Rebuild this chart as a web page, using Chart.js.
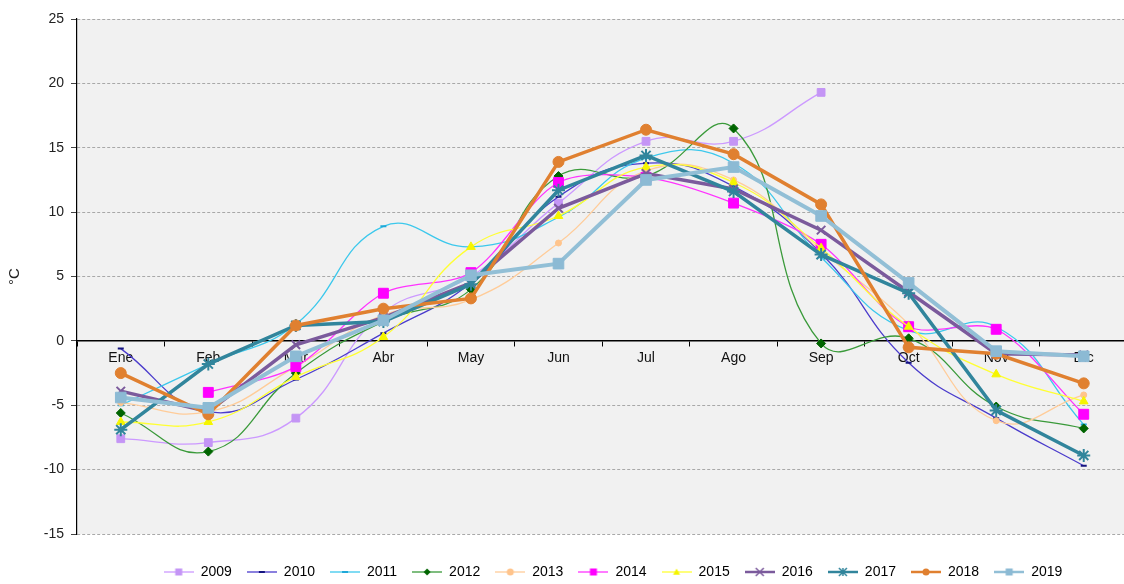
<!DOCTYPE html>
<html>
<head>
<meta charset="utf-8">
<script src="https://cdn.jsdelivr.net/npm/chart.js@4/dist/chart.umd.min.js"></script>
<style>
html, body { margin: 0; padding: 0; background: #fff; overflow: hidden; }
#wrap { width: 1136px; height: 584px; position: relative; }
</style>
</head>
<body>
<div id="wrap"><canvas id="lineChart"></canvas></div>
<script>
// datos (temperatura media mensual, ºC)
var meses = ['Ene', 'Feb', 'Mar', 'Abr', 'May', 'Jun', 'Jul', 'Ago', 'Sep', 'Oct', 'Nov', 'Dic'];
var anios = ['2009', '2010', '2011', '2012', '2013', '2014', '2015', '2016', '2017', '2018', '2019'];

var t2009 = [-7.6, -7.9, -6.0, 2.2, 5.0, 10.7, 15.5, 15.5, 19.3, null, null, null];
var t2010 = [-0.6, -5.5, -3.0, 0.6, 4.5, 11.2, 13.8, 12.0, 6.8, -1.7, -6.0, -9.7];
var t2011 = [-5.0, -1.8, 1.3, 8.9, 7.3, 9.6, 14.2, 13.8, 6.5, 0.8, 1.1, -6.5];
var t2012 = [-5.6, -8.6, -2.5, 1.5, 4.0, 12.8, 12.8, 16.5, -0.2, 0.2, -5.1, -6.8];
var t2013 = [-4.8, -5.5, -2.0, 2.0, 3.2, 7.6, 13.2, 12.5, 7.0, 1.3, -6.2, -4.2];
var t2014 = [null, -4.0, -2.0, 3.7, 5.3, 12.3, 12.7, 10.7, 7.5, 1.1, 0.9, -5.7];
var t2015 = [-6.3, -6.3, -2.8, 0.3, 7.3, 9.7, 13.5, 12.3, 7.2, 1.1, -2.6, -4.7];
var t2016 = [-3.9, -5.5, -0.3, 1.8, 4.5, 10.3, 13.0, 11.8, 8.6, 3.8, -1.0, -1.1];
var t2017 = [-6.9, -1.8, 1.2, 1.5, 4.4, 11.7, 14.4, 11.6, 6.7, 3.7, -5.4, -8.9];
var t2018 = [-2.5, -5.7, 1.2, 2.5, 3.3, 13.9, 16.4, 14.5, 10.6, -0.5, -1.0, -3.3];
var t2019 = [-4.4, -5.2, -1.2, 1.6, 5.1, 6.0, 12.5, 13.5, 9.7, 4.5, -0.8, -1.2];

var series = [t2009, t2010, t2011, t2012, t2013, t2014, t2015, t2016, t2017, t2018, t2019];

// estilo de cada serie
var estilos = [
  { color: '#cc99ff', punto: '#c495f5', forma: 'rect', r: 5.5, ancho: 1.3, curva: 0.45 },
  { color: '#4b3ccc', punto: '#14147f', forma: 'line', r: 3, ancho: 1.3, curva: 0.45 },
  { color: '#3cc8ec', punto: '#1fa8d8', forma: 'line', r: 3, ancho: 1.3, curva: 0.45 },
  { color: '#3a9a3a', punto: '#006400', forma: 'rectRot', r: 4.5, ancho: 1.3, curva: 0.45 },
  { color: '#ffcc99', punto: '#ffc48c', forma: 'circle', r: 3, ancho: 1.3, curva: 0.45 },
  { color: '#ff33ff', punto: '#ff00ff', forma: 'rect', r: 7, ancho: 1.3, curva: 0.3 },
  { color: '#ffff33', punto: '#f5f500', forma: 'triangle', r: 5, ancho: 1.3, curva: 0.45 },
  { color: '#7b5a9c', punto: '#7b5a9c', forma: 'crossRot', r: 6, ancho: 3.5, curva: 0 },
  { color: '#31859c', punto: '#31859c', forma: 'star', r: 6.5, ancho: 3.5, curva: 0 },
  { color: '#e08030', punto: '#e08030', forma: 'circle', r: 5.5, ancho: 3.5, curva: 0 },
  { color: '#92bfd6', punto: '#8cbad4', forma: 'rect', r: 7.5, ancho: 4, curva: 0 }
];

// dibuja un marcador pequeño para la leyenda
function marca(ctx, forma, x, y, r, color) {
  ctx.fillStyle = color;
  ctx.strokeStyle = color;
  ctx.lineWidth = 1.5;
  ctx.beginPath();
  if (forma === 'rect') {
    ctx.fillRect(x - r, y - r, 2 * r, 2 * r);
  } else if (forma === 'rectRot') {
    ctx.moveTo(x, y - r); ctx.lineTo(x + r, y); ctx.lineTo(x, y + r); ctx.lineTo(x - r, y);
    ctx.closePath(); ctx.fill();
  } else if (forma === 'circle') {
    ctx.arc(x, y, r, 0, Math.PI * 2); ctx.fill();
  } else if (forma === 'triangle') {
    ctx.moveTo(x, y - r); ctx.lineTo(x + r, y + r * 0.8); ctx.lineTo(x - r, y + r * 0.8);
    ctx.closePath(); ctx.fill();
  } else if (forma === 'line') {
    ctx.lineWidth = 2;
    ctx.moveTo(x - r, y); ctx.lineTo(x + r, y); ctx.stroke();
  } else if (forma === 'crossRot' || forma === 'star') {
    ctx.moveTo(x - r, y - r); ctx.lineTo(x + r, y + r);
    ctx.moveTo(x + r, y - r); ctx.lineTo(x - r, y + r);
    if (forma === 'star') { ctx.moveTo(x, y - r); ctx.lineTo(x, y + r); }
    ctx.stroke();
  }
}

function iconoLeyenda(est) {
  var c = document.createElement('canvas');
  c.width = 30; c.height = 12;
  var g = c.getContext('2d');
  g.strokeStyle = est.color;
  g.lineWidth = Math.min(est.ancho, 2.5);
  g.beginPath(); g.moveTo(0, 6); g.lineTo(30, 6); g.stroke();
  var rr = est.forma === 'line' ? 3 : (est.forma === 'crossRot' || est.forma === 'star' ? 4 : 3.5);
  marca(g, est.forma, 15, 6, rr, est.punto);
  return c;
}

var datasets = [];
for (var i = 0; i < series.length; i++) {
  var e = estilos[i];
  datasets.push({
    label: anios[i],
    data: series[i],
    borderColor: e.color,
    backgroundColor: e.punto,
    borderWidth: e.ancho,
    pointStyle: e.forma,
    pointRadius: e.r,
    pointBorderColor: e.punto,
    pointBackgroundColor: e.punto,
    pointBorderWidth: (e.forma === 'line' || e.forma === 'crossRot' || e.forma === 'star') ? 2 : 1,
    tension: e.curva,
    fill: false,
    order: series.length - i
  });
}

var fondo = {
  id: 'fondo',
  beforeDraw: function(chart) {
    var a = chart.chartArea, c = chart.ctx;
    c.save();
    c.fillStyle = '#f1f1f1';
    c.fillRect(a.left, a.top, a.right - a.left, a.bottom - a.top);
    c.restore();
  }
};

// coloca la leyenda como en el original
var posLeyenda = {
  id: 'posLeyenda',
  afterLayout: function(chart) {
    var lg = chart.legend;
    if (!lg) return;
    var dy = 572 - (lg.top + lg.options.labels.padding + 7);
    lg.top += dy; lg.bottom += dy;
    lg.left += 45; lg.right += 45;
  }
};

var ctx = document.getElementById('lineChart');
var myLineChart = new Chart(ctx, {
  type: 'line',
  data: { labels: meses, datasets: datasets },
  plugins: [fondo, posLeyenda],
  options: {
    responsive: true,
    maintainAspectRatio: false,
    animation: false,
    layout: { padding: { top: 19, right: 0, bottom: 11, left: 0 } },
    scales: {
      x: {
        type: 'category',
        position: { y: 0 },
        offset: true,
        grid: { display: true, drawOnChartArea: false, offset: true, tickLength: 5, tickColor: '#000' },
        border: { display: true, color: '#000', width: 1.5 },
        ticks: { color: '#111', padding: 4, font: { family: 'Liberation Sans, Arial', size: 14 } }
      },
      y: {
        min: -15,
        max: 25,
        afterFit: function(s) { s.width = 77; },
        ticks: { stepSize: 5, color: '#222', padding: 7, font: { family: 'Liberation Sans, Arial', size: 14 } },
        grid: {
          color: function(c) { return c.tick && c.tick.value === 0 ? 'rgba(0,0,0,0)' : '#a8a8a8'; },
          tickColor: '#444',
          tickLength: 6,
          lineWidth: 1
        },
        border: { display: true, color: '#000', width: 1.2, dash: [3, 2] },
        title: { display: true, text: '°C', color: '#222', padding: { top: 6, bottom: 0 }, font: { family: 'Liberation Sans, Arial', size: 15 } }
      }
    },
    plugins: {
      tooltip: { enabled: false },
      legend: {
        position: 'bottom',
        labels: {
          usePointStyle: true,
          pointStyleWidth: 30,
          padding: 15,
          color: '#222',
          font: { family: 'Liberation Sans, Arial', size: 14 },
          generateLabels: function(chart) {
            return chart.data.datasets.map(function(ds, k) {
              return {
                text: ds.label,
                fillStyle: ds.borderColor,
                strokeStyle: ds.borderColor,
                lineWidth: 0,
                pointStyle: iconoLeyenda(estilos[k]),
                hidden: false,
                datasetIndex: k
              };
            });
          }
        }
      }
    }
  }
});
</script>
</body>
</html>
